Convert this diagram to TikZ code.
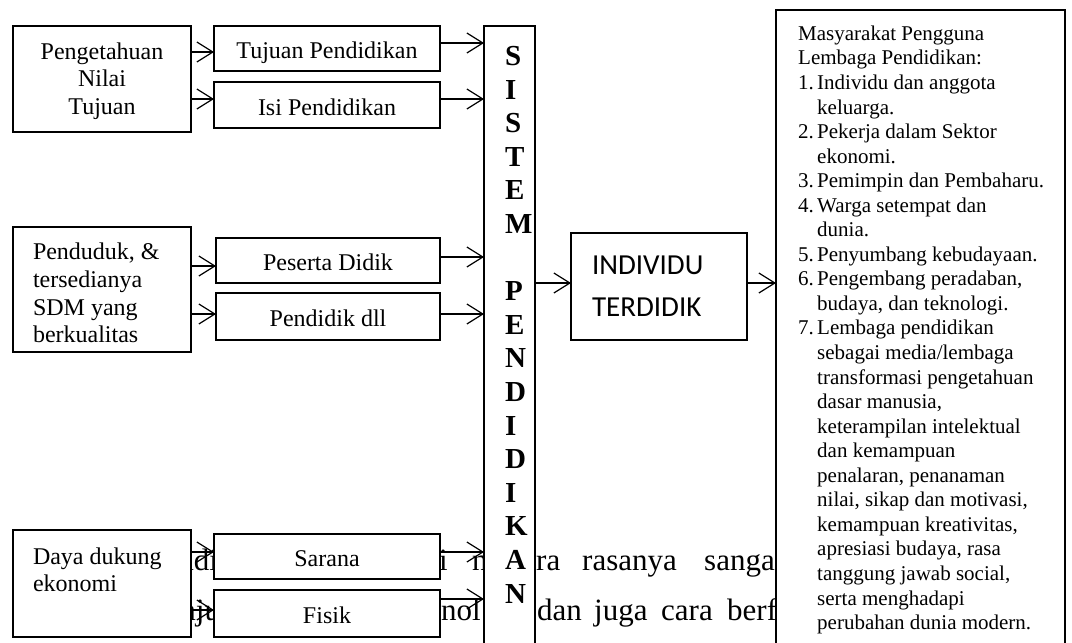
\documentclass[tikz,border=0pt]{standalone}
\usepackage{fontspec}
\setmainfont{Liberation Serif}
\newfontfamily\calibri{Carlito}
\usetikzlibrary{arrows.meta}

\begin{document}
\begin{tikzpicture}[x=1pt, y=-1pt,
  kotak/.style={draw, fill=white, line width=1.2pt, inner sep=0pt, outer sep=0pt, anchor=north west},
  teks/.style={font=\fontsize{24}{27.6}\selectfont},
  satu/.style={text height=20pt, text depth=0pt},
  latar/.style={anchor=base west, inner sep=0pt, font=\fontsize{31}{36}\selectfont},
  >={Straight Barb[length=16pt,width=20pt]}]
\useasboundingbox (0,0) rectangle (1072,643);
\clip (0,0) rectangle (1072,643);

% Text of the page behind the figure
\foreach \x/\w [count=\i] in {180/adi, 439/i, 472/n, 536/ra, 582/rasanya, 704/sanga}
    \node[latar] (atas\i) at (\x,570) {\w};
\foreach \x/\w [count=\i] in {182/aju, 441/nol, 537/dan, 594/juga, 661/cara, 727/berf}
    \node[latar] (bawah\i) at (\x,620) {\w};

% Input boxes
\node[kotak, teks, minimum width=178pt, minimum height=106pt, align=center] (peng) at (13,26) {\rule{0pt}{21pt}Pengetahuan\\Nilai\\Tujuan};
\node[kotak, teks, satu, minimum width=226pt, minimum height=45pt] (tujuan) at (214,26) {Tujuan Pendidikan};
\node[kotak, teks, satu, minimum width=226pt, minimum height=46pt] (isi) at (214,82) {Isi Pendidikan};

\node[kotak, teks, text width=138pt, inner xsep=20pt, minimum height=125pt, align=flush left] (pend) at (13,227) {\rule{0pt}{24pt}Penduduk, \&\\tersedianya\\SDM yang\\berkualitas};
\node[kotak, teks, satu, minimum width=224pt, minimum height=45pt] (peserta) at (216,238) {Peserta Didik};
\node[kotak, teks, satu, minimum width=224pt, minimum height=47pt] (pendidik) at (216,293) {Pendidik dll};

\node[kotak, teks, text width=138pt, inner xsep=20pt, minimum height=107pt, align=flush left] (daya) at (13,530) {Daya dukung\\ekonomi\\\mbox{}};
\node[kotak, teks, satu, minimum width=226pt, minimum height=45pt] (sarana) at (214,534) {Sarana};
\node[kotak, teks, satu, minimum width=226pt, minimum height=47pt] (fisik) at (214,590) {Fisik};

% System column
\node[kotak, minimum width=51pt, minimum height=660pt] (sistem) at (484,26) {};
\node[anchor=north west, inner sep=0pt, align=left, font=\fontsize{29}{33.6}\selectfont\bfseries] (huruf) at (505,46)
    {S\\I\\S\\T\\E\\M\\\mbox{}\\P\\E\\N\\D\\I\\D\\I\\K\\A\\N};

% Output
\node[kotak, text width=134pt, inner xsep=21pt, minimum height=107pt, align=flush left, font=\calibri\fontsize{29}{41.7}\selectfont] (indiv) at (571,233) {INDIVIDU\\TERDIDIK};

\node[kotak, minimum width=289pt, minimum height=660pt] (masy) at (776,10) {};
\node[anchor=north west, inner sep=0pt, font=\fontsize{21}{24.55}\selectfont] (daftar) at (798,23) {%
\begin{tabular}{@{}p{19pt}@{}l@{}}
\multicolumn{2}{@{}l@{}}{Masyarakat Pengguna}\\
\multicolumn{2}{@{}l@{}}{Lembaga Pendidikan:}\\
1.&Individu dan anggota\\
  &keluarga.\\
2.&Pekerja dalam Sektor\\
  &ekonomi.\\
3.&Pemimpin dan Pembaharu.\\
4.&Warga setempat dan\\
  &dunia.\\
5.&Penyumbang kebudayaan.\\
6.&Pengembang peradaban,\\
  &budaya, dan teknologi.\\
7.&Lembaga pendidikan\\
  &sebagai media/lembaga\\
  &transformasi pengetahuan\\
  &dasar manusia,\\
  &keterampilan intelektual\\
  &dan kemampuan\\
  &penalaran, penanaman\\
  &nilai, sikap dan motivasi,\\
  &kemampuan kreativitas,\\
  &apresiasi budaya, rasa\\
  &tanggung jawab social,\\
  &serta menghadapi\\
  &perubahan dunia modern.
\end{tabular}};

% Arrows
\foreach \a/\b/\y in {peng/tujuan/52, peng/isi/99, tujuan/sistem/43, isi/sistem/99,
    pend/peserta/266, pend/pendidik/314, peserta/sistem/257, pendidik/sistem/314,
    daya/sarana/552, daya/fisik/610, sarana/sistem/552, fisik/sistem/599,
    sistem/indiv/283, indiv/masy/283}
    \draw[->, line width=1.2pt] (\a.east |- 0,\y) -- (\b.west |- 0,\y);
\end{tikzpicture}
\end{document}
